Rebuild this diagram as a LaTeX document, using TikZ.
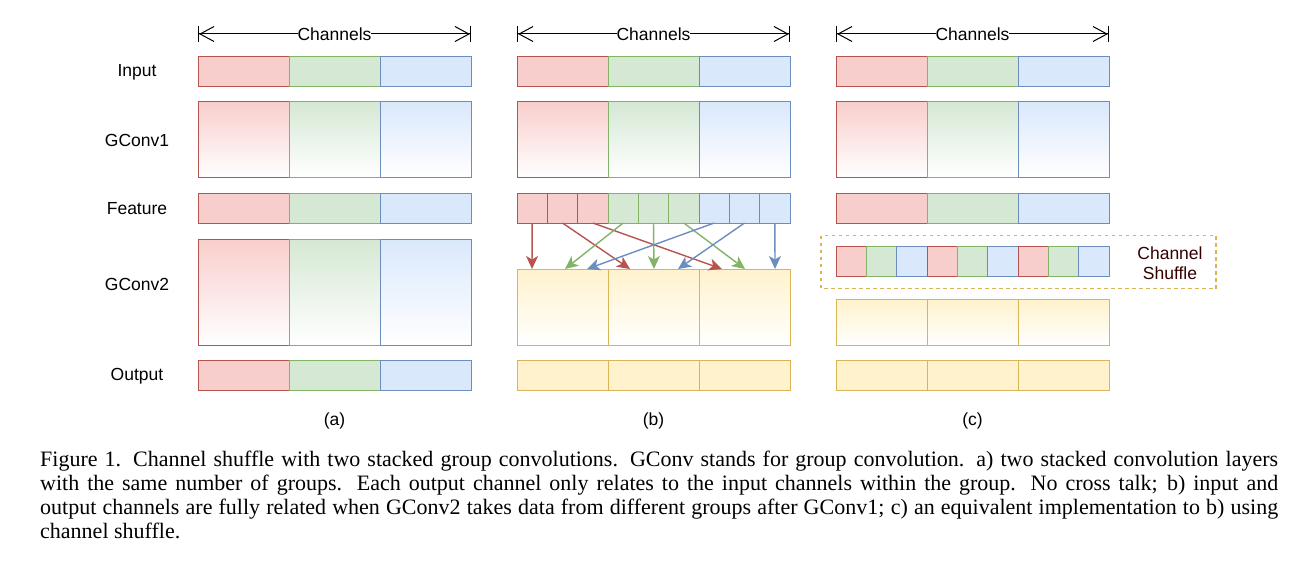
\documentclass[tikz,border=0pt]{standalone}
\usepackage{fontspec}
\setmainfont{Liberation Serif}
\newfontfamily\diagfont{Liberation Sans}
\usetikzlibrary{arrows.meta}

\definecolor{redfill}{HTML}{F8CECC}
\definecolor{redline}{HTML}{B85450}
\definecolor{greenfill}{HTML}{D5E8D4}
\definecolor{greenline}{HTML}{82B366}
\definecolor{bluefill}{HTML}{DAE8FC}
\definecolor{blueline}{HTML}{6C8EBF}
\definecolor{yellowfill}{HTML}{FFF2CC}
\definecolor{yellowline}{HTML}{D6B656}
\definecolor{shuffletext}{HTML}{330000}

\tikzset{
  block/.style={draw, line width=1pt, inner sep=0pt, outer sep=0pt, anchor=north west, minimum width=91pt},
  blk/.style={block, draw=#1line, fill=#1fill},
  grad/.style={block, draw=#1line, top color=#1fill, bottom color=white},
  cell/.style={block, draw=#1line, fill=#1fill, minimum width=30.333pt, minimum height=30pt},
  rowlabel/.style={font=\diagfont\fontsize{17.5}{20}\selectfont},
  channels/.style={line width=1pt, {Bar[width=16pt,sep=0pt]Straight Barb[length=14pt,width=15pt]}-{Straight Barb[length=14pt,width=15pt]Bar[width=16pt,sep=0pt]}},
  shufarrow/.style={line width=1.4pt, -{Stealth[length=13pt,width=12pt,inset=3.5pt]}},
  caption/.style={anchor=north west, inner sep=0pt, text width=1238pt, align=justify, font=\fontsize{22}{24}\selectfont}
}

\begin{document}
\begin{tikzpicture}[x=1pt,y=-1pt]
\useasboundingbox (0,0) rectangle (1305,575);

% row labels
\foreach \name/\y in {Input/72, GConv1/140, Feature/209, GConv2/284, Output/376}
  \node[rowlabel] (lbl\name) at (137,\y) {\name};

% parts common to the three panels
\foreach \p/\x in {a/198, b/517, c/836}{
  \coordinate (chl\p) at (\x,34);
  \coordinate (chr\p) at ({\x+273},34);
  \draw[channels] (chl\p) -- node[rowlabel, fill=white, inner sep=0pt] (ch\p) {Channels} (chr\p);
  \foreach \i/\col in {1/red, 2/green, 3/blue}{
    \node[blk=\col, minimum height=30pt] (in\p\i) at ({\x+91*\i-91},57) {};
    \node[grad=\col, minimum height=75pt] (gc\p\i) at ({\x+91*\i-91},102) {};
  }
  \node[rowlabel] (sub\p) at ({\x+136.5},421) {(\p)};
}

% panel (a)
\foreach \i/\col in {1/red, 2/green, 3/blue}{
  \node[blk=\col, minimum height=30pt] (fa\i) at ({198+91*\i-91},193) {};
  \node[grad=\col, minimum height=106pt] (ga\i) at ({198+91*\i-91},239) {};
  \node[blk=\col, minimum height=30pt] (oa\i) at ({198+91*\i-91},360) {};
}

% panel (b)
\foreach \i/\col in {1/red, 2/red, 3/red, 4/green, 5/green, 6/green, 7/blue, 8/blue, 9/blue}
  \node[cell=\col] (fb\i) at ({517+30.333*\i-30.333},193) {};
\foreach \i in {1,2,3}{
  \node[grad=yellow, minimum height=76pt] (yb\i) at ({517+91*\i-91},269) {};
  \node[blk=yellow, minimum height=30pt] (ob\i) at ({517+91*\i-91},360) {};
}
\foreach \i/\t/\dx/\col in {1/1/15/red, 2/2/22/red, 3/3/23/red, 4/1/48/green, 5/2/46/green,
    6/3/46/green, 7/1/70/blue, 8/2/70/blue, 9/3/76/blue}
  \draw[shufarrow, \col line] (fb\i.south) -- ([xshift=\dx pt]yb\t.north west);

% panel (c)
\foreach \i/\col in {1/red, 2/green, 3/blue}{
  \node[blk=\col, minimum height=30pt] (fc\i) at ({836+91*\i-91},193) {};
  \node[grad=yellow, minimum height=46pt] (yc\i) at ({836+91*\i-91},299) {};
  \node[blk=yellow, minimum height=30pt] (oc\i) at ({836+91*\i-91},360) {};
}
\foreach \i/\col in {1/red, 2/green, 3/blue, 4/red, 5/green, 6/blue, 7/red, 8/green, 9/blue}
  \node[cell=\col] (sc\i) at ({836+30.333*\i-30.333},246.5) {};
\draw[yellowline, line width=1.3pt, dash pattern=on 3.5pt off 3.5pt] (821,235.5) rectangle (1216,288.5);
\node[rowlabel, text=shuffletext, align=center] (shuf) at (1170,263) {Channel\\Shuffle};

% caption
\node[caption] (capt) at (40,451) {Figure 1. Channel shuffle with two stacked group convolutions. GConv stands for group convolution. a) two stacked convolution layers\linebreak
with the same number of groups. Each output channel only relates to the input channels within the group. No cross talk; b) input and\linebreak
output channels are fully related when GConv2 takes data from different groups after GConv1; c) an equivalent implementation to b) using\linebreak
channel shuffle.};
\end{tikzpicture}
\end{document}
